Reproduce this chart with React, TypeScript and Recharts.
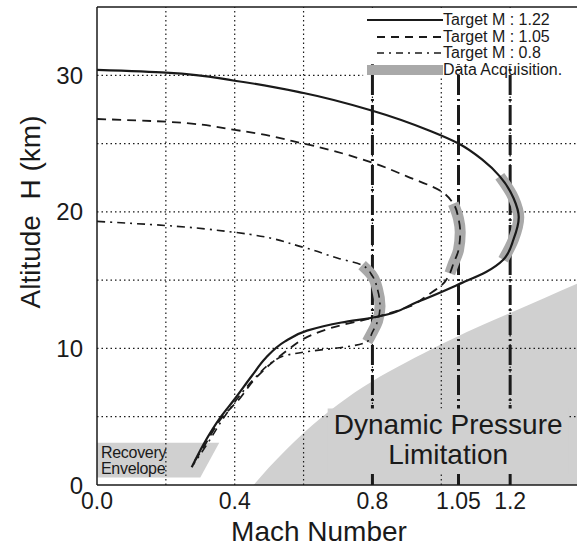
import React from "react";
import {
  ComposedChart,
  Line,
  Area,
  XAxis,
  YAxis,
  ReferenceLine,
  ReferenceArea,
  Label,
} from "recharts";

// altitude (km) and Mach number along each trajectory
const solidH = [30.4, 30.2, 29.6, 28.7, 27.4, 25.9, 25.0, 23.8, 22.6, 21.0, 19.6, 18.0, 16.5, 15.6, 14.8, 13.4, 12.3, 11.9, 11.3, 10.5, 9.3, 8.0, 6.3, 5.0, 3.0, 1.3];
const solidM = [0.0, 0.2, 0.4, 0.6, 0.8, 0.97, 1.05, 1.12, 1.17, 1.21, 1.225, 1.21, 1.18, 1.13, 1.06, 0.93, 0.81, 0.71, 0.61, 0.545, 0.49, 0.45, 0.40, 0.36, 0.31, 0.275];

const dashH = [26.8, 26.6, 26.0, 25.0, 23.6, 22.6, 21.5, 20.6, 19.5, 18.5, 17.2, 16.2, 15.5, 14.6, 13.9, 13.1, 12.3, 11.5, 10.7, 10.0, 9.0, 7.8, 6.2, 5.0, 3.0, 1.6];
const dashM = [0.0, 0.2, 0.4, 0.6, 0.8, 0.9, 1.0, 1.035, 1.05, 1.055, 1.05, 1.035, 1.025, 1.0, 0.96, 0.91, 0.81, 0.68, 0.6, 0.56, 0.51, 0.46, 0.41, 0.365, 0.315, 0.28];

const dotH = [19.3, 19.0, 18.5, 17.4, 16.6, 16.1, 15.3, 14.3, 13.1, 12.0, 11.2, 10.5, 10.1, 9.8, 9.5, 9.0, 8.0, 6.4, 5.0, 3.0, 1.5];
const dotM = [0.0, 0.2, 0.4, 0.6, 0.7, 0.77, 0.8, 0.815, 0.822, 0.815, 0.8, 0.785, 0.72, 0.62, 0.55, 0.51, 0.465, 0.41, 0.37, 0.32, 0.28];

// altitude window of the data acquisition part on each trajectory
const solidBand = [16.2, 22.9];
const dashBand = [15.4, 21.0];
const dotBand = [10.3, 16.2];

// dynamic pressure limit boundary
const qH = [0, 1.3, 2.6, 3.8, 4.9, 5.9, 7.6, 9.0, 10.3, 11.5, 12.6, 13.7, 14.8];
const qM = [0.455, 0.5, 0.55, 0.6, 0.65, 0.7, 0.8, 0.9, 1.0, 1.1, 1.2, 1.3, 1.4];

// recovery envelope right edge
const recH = [0.55, 3.1];
const recM = [0.3, 0.355];

const targetM = [0.8, 1.05, 1.2];
const xTicks = [0, 0.4, 0.8, 1.05, 1.2];
const yTicks = [0, 10, 20, 30];
const gridM = [0.2, 0.4, 0.6, 0.8, 1.0, 1.2, 1.4];
const gridH = [5, 10, 15, 20, 25, 30];

const pts = (h: number[], m: number[]) => h.map((v, i) => ({ h: v, m: m[i] }));
const inBand = (p: { h: number }[], b: number[]) => p.filter((d) => d.h >= b[0] && d.h <= b[1]);

const solidPts = pts(solidH, solidM);
const dashPts = pts(dashH, dashM);
const dotPts = pts(dotH, dotM);
const qPts = pts(qH, qM);
const recPts = pts(recH, recM);

const FONT = "'Liberation Sans', Arial, sans-serif";
const INK = "#1a1a1a";
const SHADE = "#d0d0d0";
const BAND = "#a9a9a9";

const dplLabel = (props: any) => {
  const { x, y, width } = props.viewBox;
  const cx = x + width / 2;
  return (
    <g fontFamily={FONT} fontSize={28} fill={INK} textAnchor="middle">
      <text x={cx} y={y + 25}>Dynamic Pressure</text>
      <text x={cx} y={y + 55}>Limitation</text>
    </g>
  );
};

const recLabel = (props: any) => {
  const { x, y } = props.viewBox;
  return (
    <g fontFamily={FONT} fontSize={16} fill={INK} letterSpacing={-0.3}>
      <text x={x + 4} y={y + 15}>Recovery</text>
      <text x={x + 4} y={y + 31}>Envelope</text>
    </g>
  );
};

const xLabel = (props: any) => {
  const { x, y, width } = props.viewBox;
  return (
    <text x={x + width / 2 - 19} y={y + 56} textAnchor="middle" fontFamily={FONT} fontSize={28} fill={INK}>
      Mach Number
    </text>
  );
};

const yLabel = (props: any) => {
  const { y, height } = props.viewBox;
  const cx = 30;
  const cy = y + height / 2 - 34;
  return (
    <text
      x={cx}
      y={cy}
      transform={`rotate(-90, ${cx}, ${cy})`}
      textAnchor="middle"
      dominantBaseline="central"
      fontFamily={FONT}
      fontSize={28}
      fill={INK}
      style={{ whiteSpace: "pre" }}
    >
      {"Altitude  H (km)"}
    </text>
  );
};

const legendRows = [
  { text: "Target M : 1.22", dash: "", width: 2, color: INK, from: 4 },
  { text: "Target M : 1.05", dash: "8 6", width: 1.8, color: INK, from: 14 },
  { text: "Target M : 0.8", dash: "7 5 2 5", width: 1.6, color: INK, from: 14 },
  { text: "Data Acquisition.", dash: "", width: 10, color: BAND, from: 4 },
];

const LegendBox = () => (
  <div style={{ position: "absolute", left: 363, top: 12, width: 216, height: 66, fontFamily: FONT }}>
    {legendRows.map((r, i) => (
      <div key={i} style={{ position: "absolute", left: 0, top: i * 16.5, height: 16, display: "flex", alignItems: "center" }}>
        <svg width={80} height={16}>
          <line x1={r.from} x2={80} y1={8} y2={8} stroke={r.color} strokeWidth={r.width} strokeDasharray={r.dash || undefined} />
        </svg>
        <span style={{ fontSize: 16, color: INK, whiteSpace: "pre", lineHeight: "16px" }}>{r.text}</span>
      </div>
    ))}
  </div>
);

export default function App() {
  return (
    <div style={{ position: "absolute", left: 0, top: 0, width: 577, height: 549, overflow: "hidden", background: "#fff" }}>
      <ComposedChart layout="vertical" width={580} height={549} margin={{ top: 7, right: 1, bottom: 0, left: 0 }}>
        <XAxis
          type="number"
          dataKey="m"
          domain={[0, 1.4]}
          ticks={xTicks}
          interval={0}
          allowDataOverflow
          tickFormatter={(v: number) => (v === 0 ? "0.0" : String(v))}
          tickLine={false}
          axisLine={{ stroke: INK, strokeWidth: 1.5 }}
          tick={{ fontSize: 23, fill: INK, fontFamily: FONT }}
          height={64}
        >
          <Label content={xLabel} />
        </XAxis>
        <YAxis
          type="number"
          dataKey="h"
          domain={[0, 35]}
          ticks={yTicks}
          interval={0}
          reversed
          allowDataOverflow
          tickLine={false}
          axisLine={{ stroke: INK, strokeWidth: 1.5 }}
          tick={{ fontSize: 24, fill: INK, fontFamily: FONT }}
          tickMargin={8}
          width={97}
        >
          <Label content={yLabel} />
        </YAxis>

        <Area data={qPts} dataKey="m" type="monotone" baseValue="dataMax" stroke="none" fill={SHADE} fillOpacity={1} isAnimationActive={false} zIndex={100} />
        <Area data={recPts} dataKey="m" type="linear" baseValue={0} stroke="none" fill={SHADE} fillOpacity={1} isAnimationActive={false} zIndex={100} />

        {gridM.map((v) => (
          <ReferenceLine key={`gm${v}`} x={v} stroke={INK} strokeWidth={1.2} strokeDasharray="1.5 3" zIndex={150} />
        ))}
        {gridH.map((v) => (
          <ReferenceLine key={`gh${v}`} y={v} stroke={INK} strokeWidth={1.2} strokeDasharray="1.5 3" zIndex={150} />
        ))}
        <ReferenceLine y={35} stroke={INK} strokeWidth={1.5} zIndex={150} />

        <ReferenceArea x1={0.773} x2={1.4} y1={29.8} y2={34.9} fill="#fff" fillOpacity={1} stroke="none" zIndex={160} />

        {targetM.map((v) => (
          <ReferenceLine
            key={`t${v}`}
            segment={[{ x: v, y: 0 }, { x: v, y: 30.8 }]}
            stroke={INK}
            strokeWidth={3}
            strokeDasharray="20 4 2 4"
            zIndex={200}
          />
        ))}

        <ReferenceArea x1={0.67} x2={1.37} y1={0.8} y2={5.6} fill={SHADE} fillOpacity={1} stroke="none" label={dplLabel} zIndex={250} />
        <ReferenceArea x1={0} x2={0.3} y1={0.55} y2={3.1} fill="none" fillOpacity={0} stroke="none" label={recLabel} zIndex={250} />

        <Line data={inBand(solidPts, solidBand)} dataKey="m" type="monotone" stroke={BAND} strokeWidth={11} dot={false} activeDot={false} isAnimationActive={false} zIndex={300} />
        <Line data={inBand(dashPts, dashBand)} dataKey="m" type="monotone" stroke={BAND} strokeWidth={11} dot={false} activeDot={false} isAnimationActive={false} zIndex={300} />
        <Line data={inBand(dotPts, dotBand)} dataKey="m" type="monotone" stroke={BAND} strokeWidth={11} dot={false} activeDot={false} isAnimationActive={false} zIndex={300} />

        <Line data={solidPts} dataKey="m" type="monotone" stroke={INK} strokeWidth={2.2} dot={false} activeDot={false} isAnimationActive={false} />
        <Line data={dashPts} dataKey="m" type="monotone" stroke={INK} strokeWidth={1.8} strokeDasharray="9 6" dot={false} activeDot={false} isAnimationActive={false} />
        <Line data={dotPts} dataKey="m" type="monotone" stroke={INK} strokeWidth={1.6} strokeDasharray="8 5 2 5" dot={false} activeDot={false} isAnimationActive={false} />
      </ComposedChart>
      <LegendBox />
    </div>
  );
}
